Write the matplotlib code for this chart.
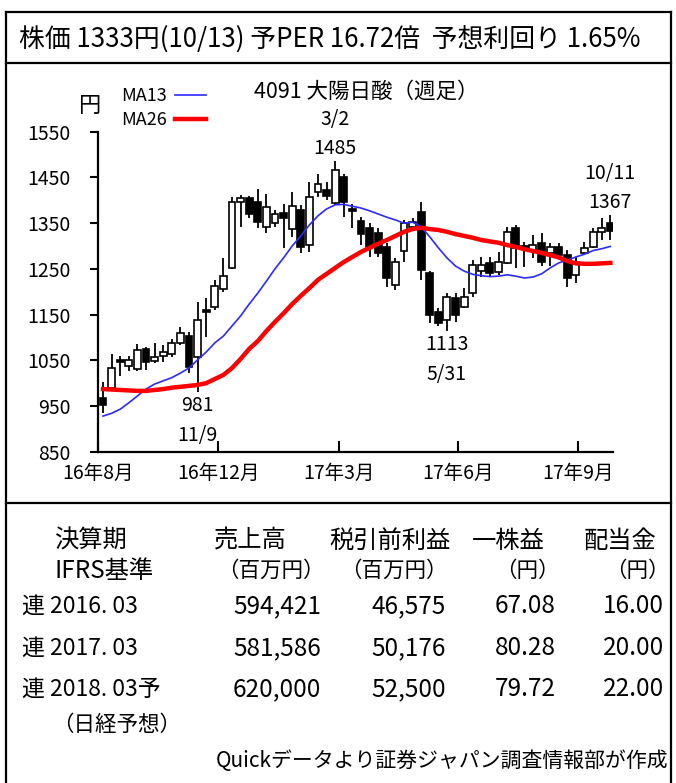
import matplotlib
matplotlib.use("Agg")
import matplotlib.pyplot as plt
from matplotlib.lines import Line2D
import numpy as np

plt.rcParams['font.family'] = ['Noto Sans CJK JP', 'DejaVu Sans']

W, H = 676, 783

# weekly candles, 2016/8/22 week .. 2017/10/9 week
opens = [967, 989, 1051, 1037, 1032, 1074, 1048, 1059, 1064, 1088,
         1103, 1057, 1160, 1167, 1205, 1251, 1397, 1405, 1396, 1342,
         1350, 1372, 1337, 1379, 1302, 1419, 1422, 1393, 1450, 1381,
         1355, 1339, 1328, 1298, 1215, 1288, 1342, 1375, 1241, 1156,
         1138, 1186, 1167, 1197, 1245, 1263, 1244, 1263, 1339, 1300,
         1288, 1307, 1285, 1298, 1280, 1237, 1284, 1298, 1331, 1350]
highs = [1002, 1064, 1059, 1059, 1086, 1080, 1088, 1083, 1097, 1123,
         1112, 1178, 1186, 1226, 1273, 1408, 1411, 1409, 1425, 1414,
         1379, 1391, 1418, 1390, 1441, 1457, 1440, 1485, 1457, 1392,
         1363, 1350, 1339, 1306, 1274, 1357, 1361, 1397, 1245, 1165,
         1197, 1197, 1208, 1269, 1276, 1276, 1287, 1342, 1346, 1309,
         1324, 1328, 1307, 1306, 1291, 1277, 1309, 1339, 1361, 1367]
lows = [935, 985, 1015, 1027, 1027, 1029, 1044, 1046, 1057, 1083,
        1022, 981, 1101, 1160, 1200, 1250, 1342, 1361, 1339, 1328,
        1342, 1295, 1320, 1285, 1287, 1407, 1400, 1390, 1364, 1339,
        1302, 1277, 1276, 1210, 1204, 1266, 1337, 1226, 1131, 1124,
        1113, 1134, 1164, 1189, 1232, 1234, 1236, 1260, 1252, 1255,
        1274, 1256, 1256, 1274, 1211, 1218, 1280, 1295, 1313, 1313]
closes = [952, 1033, 1047, 1051, 1072, 1047, 1057, 1069, 1088, 1110,
          1036, 1138, 1156, 1212, 1234, 1397, 1404, 1370, 1352, 1386,
          1371, 1361, 1387, 1298, 1408, 1436, 1409, 1466, 1397, 1376,
          1326, 1298, 1285, 1230, 1266, 1350, 1353, 1247, 1149, 1131,
          1189, 1149, 1189, 1258, 1258, 1241, 1266, 1331, 1295, 1295,
          1302, 1265, 1298, 1280, 1230, 1266, 1295, 1331, 1339, 1333]
ma13 = [928, 934, 943, 957, 972, 987, 998, 1005, 1012, 1022,
        1033, 1051, 1068, 1088, 1103, 1125, 1147, 1173, 1197, 1223,
        1250, 1274, 1300, 1322, 1346, 1366, 1381, 1390, 1391, 1387,
        1383, 1377, 1370, 1363, 1357, 1350, 1352, 1342, 1320, 1296,
        1274, 1256, 1245, 1238, 1235, 1233, 1234, 1237, 1234, 1230,
        1232, 1239, 1252, 1263, 1269, 1276, 1282, 1290, 1294, 1299]
ma26 = [987, 986, 985, 984, 983, 983, 985, 987, 990, 992,
        994, 996, 1000, 1009, 1018, 1033, 1053, 1075, 1092, 1114,
        1134, 1153, 1173, 1191, 1208, 1226, 1239, 1252, 1265, 1276,
        1287, 1296, 1305, 1313, 1322, 1331, 1337, 1340, 1337, 1335,
        1331, 1326, 1322, 1318, 1313, 1310, 1307, 1302, 1298, 1293,
        1289, 1285, 1280, 1275, 1267, 1262, 1261, 1261, 1262, 1263]

tick_weeks = [-0.55, 13.4, 27.4, 41.3, 55.3]
tick_labels = ['16年8月', '16年12月', '17年3月', '17年6月', '17年9月']

# highs / lows marked on the chart
peak_weeks = [27, 59]
peak_dates = ['3/2', '10/11']
trough_weeks = [11, 40]
trough_dates = ['11/9', '5/31']

header = '株価 1333円(10/13) 予PER 16.72倍  予想利回り 1.65%'
title = '4091 大陽日酸（週足）'

col_head1 = ['決算期', '売上高', '税引前利益', '一株益', '配当金']
col_head2 = ['IFRS基準', '（百万円）', '（百万円）', '（円）', '（円）']
periods = ['連 2016. 03', '連 2017. 03', '連 2018. 03予']
sales = ['594,421', '581,586', '620,000']
pretax = ['46,575', '50,176', '52,500']
eps = ['67.08', '80.28', '79.72']
dividend = ['16.00', '20.00', '22.00']
note = '（日経予想）'
source = 'Quickデータより証券ジャパン調査情報部が作成'


def fx(px):
    return px / W


def fy(py):
    return 1 - py / H


fig = plt.figure(figsize=(W / 100, H / 100), dpi=100)
fig.patch.set_facecolor('white')

# frame lines
for x0, y0, x1, y1 in [(6, 12, 671, 12), (6, 63, 671, 63), (6, 503, 671, 503),
                       (6, 12, 6, 783), (671, 12, 671, 783)]:
    fig.add_artist(Line2D([fx(x0), fx(x1)], [fy(y0), fy(y1)], color='black',
                          lw=1.6, transform=fig.transFigure))

fig.text(fx(19), fy(39), header, fontsize=18.6, va='center', ha='left')

ax = fig.add_axes([fx(98.3), fy(451.7), fx(613.3) - fx(98.3), fy(131.7) - fy(451.7)])
weeks = np.arange(len(opens))

for i in weeks:
    o, h, l, c = opens[i], highs[i], lows[i], closes[i]
    ax.vlines(i, l, h, color='black', lw=1.3, zorder=2)
    face = 'white' if c >= o else 'black'
    ax.bar(i, max(abs(c - o), 2.5), bottom=min(o, c), width=0.8, color=face,
           edgecolor='black', lw=1.2, zorder=3)

ax.plot(weeks, ma13, color='#2b2bff', lw=1.2, zorder=4, label='MA13')
ax.plot(weeks, ma26, color='#ff0000', lw=3.2, zorder=4, label='MA26')

ax.set_xlim(-0.55, 59.35)
ax.set_ylim(850, 1550)
ax.set_yticks(np.arange(850, 1551, 100))
ax.set_xticks(tick_weeks)
ax.set_xticklabels(tick_labels, fontsize=14)
ax.tick_params(axis='y', direction='out', length=6, width=1.5, labelsize=14, pad=14)
ax.tick_params(axis='x', direction='in', length=8, width=1.5, pad=8)
for s in ['top', 'right']:
    ax.spines[s].set_visible(False)
for s in ['left', 'bottom']:
    ax.spines[s].set_linewidth(1.6)

for wk, d in zip(peak_weeks, peak_dates):
    ax.annotate(str(highs[wk]), (wk, highs[wk]), xytext=(0, 2), textcoords='offset pixels',
                ha='center', va='bottom', fontsize=14, annotation_clip=False)
    ax.annotate(d, (wk, highs[wk]), xytext=(0, 31), textcoords='offset pixels',
                ha='center', va='bottom', fontsize=14, annotation_clip=False)
for wk, d in zip(trough_weeks, trough_dates):
    ax.annotate(str(lows[wk]), (wk, lows[wk]), xytext=(0, -3), textcoords='offset pixels',
                ha='center', va='top', fontsize=14, annotation_clip=False)
    ax.annotate(d, (wk, lows[wk]), xytext=(0, -33), textcoords='offset pixels',
                ha='center', va='top', fontsize=14, annotation_clip=False)

ax.legend(loc='upper left', bbox_to_anchor=(fx(121), fy(87)), bbox_transform=fig.transFigure,
          frameon=False, markerfirst=False, fontsize=13, handlelength=1.75,
          handletextpad=0.45, labelspacing=0.35, borderpad=0, borderaxespad=0)

fig.text(fx(366), fy(92), title, fontsize=15.5, ha='center', va='center')
fig.text(fx(90), fy(106), '円', fontsize=16, ha='center', va='center')

# table
row1, row2 = 541, 571
rows = [606, 648, 689]
fig.text(fx(54), fy(row1), col_head1[0], fontsize=17.5, va='center', ha='left')
for cx, t in zip([250, 390, 508, 620], col_head1[1:]):
    fig.text(fx(cx), fy(row1), t, fontsize=17.5, va='center', ha='center')
fig.text(fx(54), fy(row2), col_head2[0], fontsize=17.5, va='center', ha='left')
for rx, t in zip([325, 448, 560, 670], col_head2[1:]):
    fig.text(fx(rx), fy(row2), t, fontsize=15.5, va='center', ha='right')
for r, y in enumerate(rows):
    fig.text(fx(22), fy(y), periods[r], fontsize=16.5, va='center', ha='left')
    for rx, col in zip([321, 446, 556, 664], [sales, pretax, eps, dividend]):
        fig.text(fx(rx), fy(y), col[r], fontsize=17.5, va='center', ha='right')
fig.text(fx(52), fy(725), note, fontsize=15.5, va='center', ha='left')
fig.text(fx(668), fy(761), source, fontsize=15, va='center', ha='right')

fig.savefig('out.png', dpi=100)
